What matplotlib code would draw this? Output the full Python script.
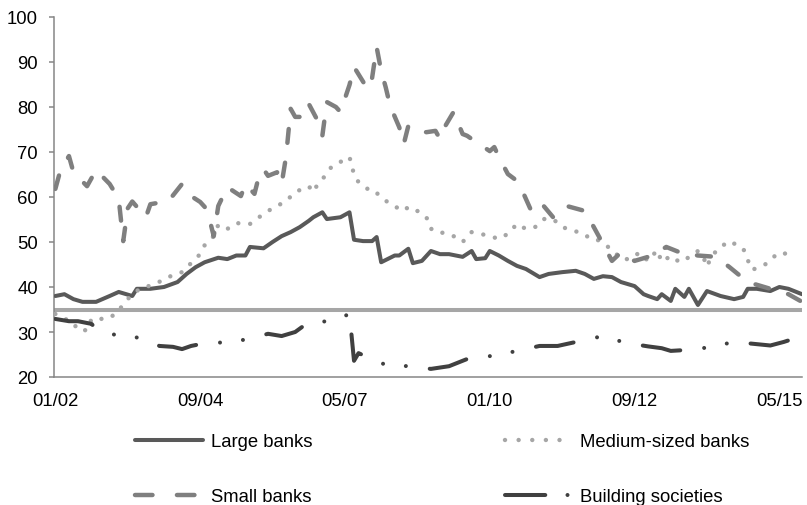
import matplotlib
matplotlib.use('Agg')
import matplotlib.pyplot as plt
from matplotlib.lines import Line2D

plt.rcParams['font.family'] = ['Liberation Sans', 'DejaVu Sans']
plt.rcParams['lines.scale_dashes'] = False

# ---- data (x = months since January 2002) ----
tick_months = [0, 32, 64, 96, 128, 160]
tick_labels = ['01/02', '09/04', '05/07', '01/10', '09/12', '05/15']
y_ticks = [20, 30, 40, 50, 60, 70, 80, 90, 100]
threshold = 35

large_m = [0, 2, 4, 6, 9, 12, 14, 17, 18, 21, 24, 27, 29, 31, 33, 36, 38, 40, 42, 43,
           46, 48, 50, 52, 54, 56, 57, 59, 60, 63, 65, 66, 68, 70, 71, 72, 75, 76, 78, 79,
           81, 83, 85, 87, 90, 92, 93, 95, 96, 98, 100, 102, 104, 107, 109, 112, 115, 117, 119, 121,
           123, 125, 128, 130, 131, 133, 134, 136, 137, 139, 140, 142, 144, 147, 150, 152, 153, 155, 158, 160,
           162, 165]
large_v = [38.0, 38.4, 37.3, 36.7, 36.7, 38.0, 38.9, 38.0, 39.6, 39.6, 40.0, 41.1, 42.9, 44.4, 45.5, 46.5, 46.2, 47.0, 47.0, 48.9,
           48.6, 50.0, 51.3, 52.2, 53.3, 54.7, 55.5, 56.6, 55.1, 55.5, 56.6, 50.5, 50.2, 50.2, 51.1, 45.5, 47.0, 47.0, 48.5, 45.3,
           45.8, 48.0, 47.3, 47.3, 46.7, 48.0, 46.2, 46.4, 48.0, 47.0, 45.8, 44.7, 44.0, 42.2, 42.9, 43.3, 43.6, 42.9, 41.8, 42.4,
           42.2, 41.1, 40.2, 38.4, 38.0, 37.3, 38.4, 36.9, 39.6, 37.8, 39.6, 36.0, 39.1, 38.0, 37.3, 37.8, 39.6, 39.6, 39.1, 40.0,
           39.6, 38.4]

med_m = [0, 2, 4, 5, 7, 8, 10, 12, 14, 15, 17, 19, 21, 24, 26, 28, 30, 32, 33, 35,
         36, 38, 40, 43, 45, 47, 49, 51, 53, 56, 57, 58, 60, 61, 63, 65, 66, 67, 69, 70,
         72, 74, 77, 78, 80, 82, 83, 84, 86, 88, 90, 92, 94, 96, 98, 100, 102, 104, 106, 108,
         110, 112, 115, 117, 119, 121, 123, 125, 127, 129, 131, 133, 134, 136, 138, 140, 142, 143, 144, 145,
         147, 149, 151, 152, 153, 154, 157, 159, 161, 163]
med_v = [34.0, 33.0, 32.0, 30.4, 30.4, 32.9, 32.9, 33.1, 34.7, 36.2, 38.4, 39.8, 40.3, 41.6, 42.7, 43.3, 45.3, 47.3, 49.3, 51.3,
         53.8, 52.9, 54.2, 54.0, 55.5, 56.9, 58.0, 59.1, 61.1, 62.4, 61.1, 62.9, 65.1, 66.7, 67.8, 68.9, 65.0, 63.3, 61.8, 61.8,
         60.0, 58.4, 56.9, 57.8, 56.9, 55.5, 52.9, 52.9, 51.8, 51.3, 50.0, 52.2, 51.8, 51.3, 50.7, 51.8, 54.0, 52.9, 53.3, 55.1,
         55.1, 53.3, 52.4, 51.3, 51.1, 49.6, 48.4, 46.2, 46.2, 47.6, 45.8, 48.2, 45.6, 46.9, 45.5, 46.6, 48.0, 47.2, 44.5, 46.9,
         48.9, 50.2, 49.1, 48.6, 46.0, 43.8, 45.1, 46.9, 47.7, 45.5]

small_m = [0, 1, 3, 4, 7, 9, 12, 14, 15, 16, 17, 20, 21, 25, 28, 30, 32, 33, 34, 35,
           36, 38, 41, 42, 44, 45, 46, 47, 49, 50, 51, 52, 53, 55, 56, 58, 59, 60, 62, 63,
           65, 66, 69, 70, 71, 72, 73, 74, 76, 77, 78, 80, 82, 84, 85, 86, 88, 90, 91, 92,
           96, 97, 98, 100, 102, 103, 105, 106, 107, 110, 113, 117, 119, 121, 123, 125, 126, 128, 132, 133,
           135, 139, 140, 142, 146, 149, 153, 156, 162, 165]
small_v = [61.8, 65.5, 69.1, 65.5, 62.4, 66.0, 62.9, 59.6, 50.2, 57.5, 59.0, 55.5, 58.4, 59.1, 62.9, 60.2, 58.9, 57.8, 55.3, 51.3,
           58.0, 62.2, 60.2, 62.9, 60.7, 64.7, 66.2, 64.7, 65.5, 62.9, 69.1, 79.6, 77.8, 77.8, 80.7, 76.9, 73.6, 81.1, 80.0, 78.9,
           84.9, 88.9, 84.0, 86.5, 93.3, 88.0, 84.4, 80.2, 75.5, 71.8, 75.8, 74.7, 74.4, 74.7, 72.9, 75.5, 78.9, 74.0, 73.6, 72.9,
           70.2, 71.1, 68.9, 65.1, 63.6, 61.8, 57.3, 58.2, 59.1, 55.5, 58.0, 56.9, 53.3, 49.6, 45.8, 47.7, 46.7, 45.8, 47.0, 47.7,
           48.9, 47.3, 47.3, 47.0, 46.7, 44.4, 41.1, 40.2, 38.4, 36.7]

bs_m = [0, 3, 5, 8, 9, 14, 19, 23, 26, 28, 30, 32, 37, 42, 47, 50, 53, 56, 61, 65,
        66, 67, 69, 73, 78, 83, 87, 92, 97, 102, 107, 111, 116, 121, 126, 131, 134, 136, 141, 145,
        150, 155, 158, 161, 165]
bs_v = [32.9, 32.4, 32.4, 31.8, 30.7, 29.1, 28.7, 26.9, 26.7, 26.2, 26.9, 27.3, 27.7, 28.3, 29.6, 29.1, 30.0, 32.2, 32.4, 34.0,
        23.6, 25.3, 24.4, 22.7, 22.4, 21.8, 22.4, 24.4, 24.7, 25.8, 26.9, 26.9, 28.0, 29.1, 27.6, 26.8, 26.4, 25.8, 26.1, 26.7,
        27.8, 27.3, 27.0, 27.8, 29.1]

labels = ['Large banks', 'Medium-sized banks', 'Small banks', 'Building societies']

# ---- styles ----
c_large, c_med, c_small, c_bs, c_thr = '#595959', '#a6a6a6', '#7f7f7f', '#404040', '#a6a6a6'

# ---- figure ----
W, H = 807, 506
fig = plt.figure(figsize=(W / 100, H / 100), dpi=100)
ax = fig.add_axes([54 / W, (H - 378) / H, (802 - 54) / W, (378 - 18) / H])

ax.axhline(threshold, color=c_thr, lw=2.9, zorder=1)
ax.plot(large_m, large_v, color=c_large, lw=2.9, solid_capstyle='round',
        solid_joinstyle='round', zorder=3)
ax.plot(med_m, med_v, color=c_med, lw=3.2, dashes=(0.01, 8.6),
        dash_capstyle='round', zorder=3)
ax.plot(small_m, small_v, color=c_small, lw=3.2, dashes=(10, 14.4),
        dash_capstyle='round', dash_joinstyle='round', zorder=3)
ax.plot(bs_m, bs_v, color=c_bs, lw=2.9,
        dashes=(27.4, 17.3, 0.01, 16.6, 0.01, 17.3),
        dash_capstyle='round', dash_joinstyle='round', zorder=3)

ax.set_xlim(-0.3, 165)
ax.set_ylim(20, 100)
ax.set_yticks(y_ticks)
ax.set_xticks(tick_months)
ax.set_xticklabels(tick_labels)

for s in ['top', 'right']:
    ax.spines[s].set_visible(False)
for s in ['left', 'bottom']:
    ax.spines[s].set_color('#868686')
    ax.spines[s].set_linewidth(1.1)

ax.tick_params(axis='y', length=3.6, width=1.1, color='#868686', pad=7.9,
               labelsize=13.3, labelcolor='black')
ax.tick_params(axis='x', length=0, pad=11, labelsize=13.3, labelcolor='black')

# legend proxies (same styles, dash phase as in the reference legend)
h_large = Line2D([], [], color=c_large, lw=2.9, solid_capstyle='round')
h_small = Line2D([], [], color=c_small, lw=3.2, dashes=(12.6, 17.6), dash_capstyle='round')
h_med = Line2D([], [], color=c_med, lw=3.2, dashes=(0.01, 9.8), dash_capstyle='round')
h_bs = Line2D([], [], color=c_bs, lw=2.9, dashes=(29, 16, 0.01, 40), dash_capstyle='round')

fig.legend([h_large, h_small, h_med, h_bs],
           [labels[0], labels[2], labels[1], labels[3]],
           loc='upper left', bbox_to_anchor=(135 / W, 1 - 434 / H),
           ncol=2, frameon=False, fontsize=13.3, handlelength=3.68,
           handletextpad=0.43, columnspacing=10.4, labelspacing=2.06,
           borderpad=0, borderaxespad=0)

fig.savefig('out.png', dpi=100)
